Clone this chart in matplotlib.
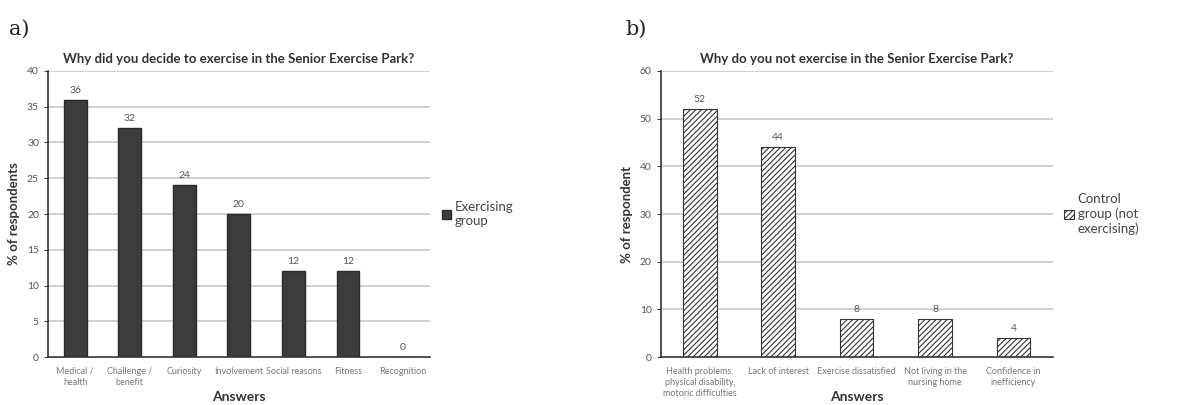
import matplotlib
matplotlib.use("Agg")
import matplotlib.pyplot as plt

plt.rcParams['font.family'] = ['Lato', 'DejaVu Sans']
plt.rcParams['hatch.linewidth'] = 0.8

cats_a = ["Medical /\nhealth", "Challenge /\nbenefit", "Curiosity", "Involvement",
          "Social reasons", "Fitness", "Recognition"]
vals_a = [36, 32, 24, 20, 12, 12, 0]
yticks_a = [0, 5, 10, 15, 20, 25, 30, 35, 40]

cats_b = ["Health problems,\nphysical disability,\nmotoric difficulties", "Lack of interest",
          "Exercise dissatisfied", "Not living in the\nnursing home", "Confidence in\ninefficiency"]
vals_b = [52, 44, 8, 8, 4]
yticks_b = [0, 10, 20, 30, 40, 50, 60]

fig = plt.figure(figsize=(11.84, 4.05), dpi=100)
ax1 = fig.add_axes([0.0405, 0.1185, 0.3225, 0.7062])
ax2 = fig.add_axes([0.558, 0.1185, 0.331, 0.7062])

grid_c = "#c8c8c8"
txt_c = "#555555"

def style(ax, yticks, cats, ylabel, title):
    ax.set_ylim(yticks[0], yticks[-1])
    ax.set_yticks(yticks)
    ax.set_xlim(-0.5, len(cats) - 0.5)
    ax.set_xticks(range(len(cats)))
    ax.set_xticklabels(cats, fontsize=6.5, color="#777777", linespacing=1.3)
    ax.tick_params(axis='y', labelsize=7.5, labelcolor=txt_c, length=3, color="#444444")
    ax.tick_params(axis='x', length=0, pad=7)
    for y in yticks[1:]:
        ax.axhline(y, color=grid_c, lw=1.2, zorder=0)
    for s in ["top", "right"]:
        ax.spines[s].set_visible(False)
    ax.spines["left"].set_color("#333333")
    ax.spines["bottom"].set_color("#333333")
    ax.spines["left"].set_linewidth(1.2)
    ax.spines["bottom"].set_linewidth(1.2)
    ax.set_ylabel(ylabel, fontsize=9.5, fontweight='bold', color="#333333", labelpad=5)
    ax.set_xlabel("Answers", fontsize=10, fontweight='bold', color="#333333")
    ax.xaxis.set_label_coords(0.5, -0.118)
    ax.set_title(title, fontsize=9.5, fontweight='bold', color="#333333", pad=6)

ax1.bar(range(len(cats_a)), vals_a, width=0.42, color="#3c3c3c", edgecolor="#2a2a2a",
        zorder=2, label="Exercising\ngroup")
for i, v in enumerate(vals_a):
    ax1.text(i, v + 0.7, str(v), ha='center', va='bottom', fontsize=7.5, color=txt_c)
style(ax1, yticks_a, cats_a, "% of respondents", "Why did you decide to exercise in the Senior Exercise Park?")
ax1.legend(loc='center left', bbox_to_anchor=(1.0, 0.5), frameon=False, fontsize=9.5,
           handlelength=0.7, handleheight=0.7, handletextpad=0.3, labelcolor="#444444")

ax2.bar(range(len(cats_b)), vals_b, width=0.43, color="white", edgecolor="#333333",
        hatch="//////", lw=0.8, zorder=2, label="Control\ngroup (not\nexercising)")
for i, v in enumerate(vals_b):
    ax2.text(i, v + 1.0, str(v), ha='center', va='bottom', fontsize=7.5, color=txt_c)
style(ax2, yticks_b, cats_b, "% of respondent", "Why do you not exercise in the Senior Exercise Park?")
ax2.legend(loc='center left', bbox_to_anchor=(1.0, 0.5), frameon=False, fontsize=9.5,
           handlelength=0.7, handleheight=0.7, handletextpad=0.3, labelcolor="#444444")

fig.text(0.008, 0.915, "a)", fontsize=15, family="DejaVu Serif", color="#222222")
fig.text(0.528, 0.915, "b)", fontsize=15, family="DejaVu Serif", color="#222222")

fig.savefig("out.png", dpi=100, facecolor="white")
